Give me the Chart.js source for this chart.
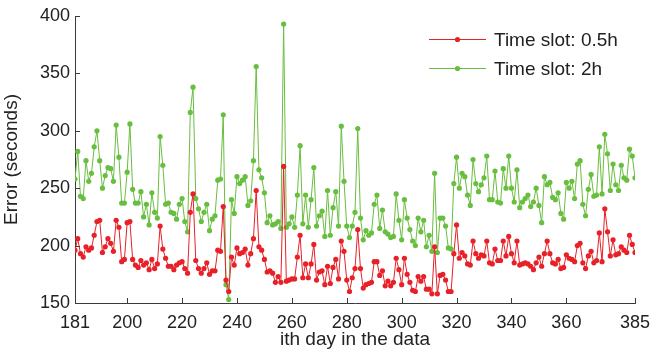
<!DOCTYPE html>
<html lang="en">
<head>
    <meta charset="UTF-8">
    <title>Error per day</title>
    <style>
        html, body { margin: 0; padding: 0; background: #fff; }
        #wrap { width: 652px; height: 353px; }
    </style>
</head>
<body>
    <div id="wrap">
        <canvas id="errChart" width="652" height="353"></canvas>
    </div>

    <script src="https://cdn.jsdelivr.net/npm/chart.js"></script>
    <script>
        // Day range and tick labels
        const firstDay = 181;
        const lastDay = 385;
        const xTicks = [181, 200, 220, 240, 260, 280, 300, 320, 340, 360, 385];
        const yTicks = [150, 200, 250, 300, 350, 400];
        const seriesNames = ['Time slot: 0.5h', 'Time slot: 2h'];

        // Error (seconds), one value per day, 181 .. 385
        const slot05h = [
            196, 206, 193, 190, 199, 196, 198, 209, 221, 222,
            194, 199, 206, 202, 195, 222, 216, 186, 188, 220,
            221, 188, 183, 181, 187, 183, 185, 179, 188, 180,
            184, 217, 197, 189, 182, 182, 179, 183, 185, 186,
            180, 176, 229, 245, 187, 180, 176, 180, 185, 175,
            178, 178, 196, 195, 234, 170, 160, 190, 183, 198,
            193, 194, 197, 183, 193, 206, 248, 199, 196, 188,
            177, 178, 176, 168, 173, 168, 269, 169, 170, 171,
            171, 190, 209, 172, 184, 172, 184, 201, 170, 177,
            178, 166, 182, 167, 181, 188, 171, 204, 195, 170,
            160, 172, 180, 214, 180, 163, 166, 167, 168, 186,
            186, 174, 178, 165, 169, 165, 168, 189, 179, 166,
            189, 175, 168, 161, 160, 173, 169, 173, 162, 162,
            158, 199, 158, 174, 175, 170, 160, 160, 193, 218,
            189, 194, 191, 184, 183, 204, 193, 189, 192, 191,
            204, 185, 184, 197, 187, 187, 204, 191, 208, 193,
            185, 204, 183, 184, 185, 184, 182, 179, 185, 190,
            182, 193, 204, 193, 185, 184, 188, 180, 181, 192,
            189, 188, 186, 200, 202, 185, 180, 191, 195, 185,
            187, 211, 186, 232, 212, 191, 205, 192, 193, 199,
            196, 194, 209, 201, 194
        ];
        const slot2h = [
            258, 282, 243, 241, 274, 256, 263, 286, 300, 274,
            250, 261, 268, 267, 256, 305, 277, 237, 237, 264,
            306, 249, 237, 237, 247, 225, 236, 218, 246, 229,
            224, 295, 270, 236, 237, 229, 228, 223, 236, 241,
            221, 212, 316, 338, 241, 232, 221, 229, 236, 213,
            223, 226, 257, 258, 314, 166, 153, 240, 228, 260,
            254, 257, 260, 235, 239, 274, 356, 266, 259, 246,
            220, 226, 218, 219, 221, 215, 393, 216, 219, 225,
            216, 244, 287, 219, 244, 216, 240, 268, 217, 226,
            230, 208, 248, 209, 233, 247, 217, 304, 256, 217,
            207, 217, 229, 302, 224, 205, 213, 209, 211, 236,
            244, 215, 231, 212, 210, 207, 208, 245, 222, 205,
            240, 224, 214, 204, 200, 224, 212, 222, 199, 209,
            195, 263, 194, 224, 224, 217, 198, 197, 254, 277,
            250, 263, 260, 244, 235, 275, 254, 247, 253, 259,
            278, 240, 240, 265, 238, 237, 267, 250, 278, 250,
            238, 266, 233, 238, 241, 244, 234, 238, 250, 235,
            220, 260, 253, 255, 242, 240, 246, 228, 223, 255,
            250, 256, 241, 271, 274, 236, 226, 249, 262, 243,
            244, 286, 245, 297, 280, 248, 271, 253, 248, 270,
            259, 257, 284, 278, 259
        ];

        const redColor = 'rgb(232, 32, 40)';
        const greenColor = 'rgb(104, 190, 62)';
        const fontFamily = '"Liberation Sans", Arial, Helvetica, sans-serif';
        const axisColor = '#3a3a3a';

        function toPoints(values) {
            return values.map((v, i) => ({ x: firstDay + i, y: v }));
        }

        // small tick marks pointing into the plot (matlab style)
        const innerTicks = {
            id: 'innerTicks',
            afterDraw(chart) {
                const c = chart.ctx;
                const xs = chart.scales.x, ys = chart.scales.y;
                const len = 5;
                c.save();
                c.strokeStyle = axisColor;
                c.lineWidth = 1;
                c.beginPath();
                xTicks.forEach(t => {
                    const px = Math.round(xs.getPixelForValue(t)) + 0.5;
                    c.moveTo(px, ys.bottom);
                    c.lineTo(px, ys.bottom - len);
                });
                yTicks.forEach(t => {
                    const py = Math.round(ys.getPixelForValue(t)) + 0.5;
                    c.moveTo(xs.left, py);
                    c.lineTo(xs.left + len, py);
                });
                c.stroke();
                c.restore();
            }
        };

        // legend in the upper right corner of the plot, no box
        const insideLegend = {
            id: 'insideLegend',
            afterDraw(chart) {
                const c = chart.ctx;
                const rows = [
                    { text: seriesNames[0], color: redColor, y: 39.5 },
                    { text: seriesNames[1], color: greenColor, y: 68.5 }
                ];
                c.save();
                rows.forEach(r => {
                    c.strokeStyle = r.color;
                    c.lineWidth = 1;
                    c.beginPath();
                    c.moveTo(429, r.y);
                    c.lineTo(486, r.y);
                    c.stroke();
                    c.fillStyle = r.color;
                    c.beginPath();
                    c.arc(457.5, r.y, 2.6, 0, Math.PI * 2);
                    c.fill();
                    c.fillStyle = '#222';
                    c.font = '19px ' + fontFamily;
                    c.textBaseline = 'middle';
                    c.fillText(r.text, 494, r.y + 1);
                });
                c.restore();
            }
        };

        const ctx = document.getElementById('errChart').getContext('2d');
        const errChart = new Chart(ctx, {
            type: 'line',
            data: {
                datasets: [{
                    label: seriesNames[0],
                    data: toPoints(slot05h),
                    borderColor: redColor,
                    backgroundColor: redColor,
                    borderWidth: 1,
                    pointRadius: 2.6,
                    pointBorderWidth: 0,
                    pointBackgroundColor: redColor,
                    tension: 0
                }, {
                    label: seriesNames[1],
                    data: toPoints(slot2h),
                    borderColor: greenColor,
                    backgroundColor: greenColor,
                    borderWidth: 1,
                    pointRadius: 2.6,
                    pointBorderWidth: 0,
                    pointBackgroundColor: greenColor,
                    tension: 0
                }]
            },
            options: {
                responsive: false,
                animation: false,
                layout: { padding: { left: 0, right: 17, top: 16, bottom: 0 } },
                plugins: {
                    legend: { display: false },
                    tooltip: { enabled: false }
                },
                scales: {
                    x: {
                        type: 'linear',
                        min: firstDay,
                        max: lastDay,
                        afterBuildTicks: scale => {
                            scale.ticks = xTicks.map(v => ({ value: v }));
                        },
                        afterFit: scale => {
                            scale.height = 50;
                            scale.paddingLeft = 0;
                            scale.paddingRight = 0;
                        },
                        grid: { display: false, drawTicks: false },
                        border: { display: true, color: axisColor, width: 1 },
                        ticks: {
                            autoSkip: false,
                            maxRotation: 0,
                            padding: 9,
                            color: '#222',
                            font: { family: fontFamily, size: 18 }
                        },
                        title: {
                            display: true,
                            text: 'ith day in the data',
                            color: '#222',
                            padding: { top: 0, bottom: 2 },
                            font: { family: fontFamily, size: 19 }
                        }
                    },
                    y: {
                        min: 150,
                        max: 400,
                        afterBuildTicks: scale => {
                            scale.ticks = yTicks.map(v => ({ value: v }));
                        },
                        afterFit: scale => {
                            scale.width = 75;
                            scale.paddingTop = 0;
                            scale.paddingBottom = 0;
                        },
                        grid: { display: false, drawTicks: false },
                        border: { display: true, color: axisColor, width: 1 },
                        ticks: {
                            padding: 5,
                            color: '#222',
                            font: { family: fontFamily, size: 18 }
                        },
                        title: {
                            display: true,
                            text: 'Error (seconds)',
                            color: '#222',
                            padding: { top: 0, bottom: 0 },
                            font: { family: fontFamily, size: 19 }
                        }
                    }
                }
            },
            plugins: [innerTicks, insideLegend]
        });
    </script>
</body>
</html>
